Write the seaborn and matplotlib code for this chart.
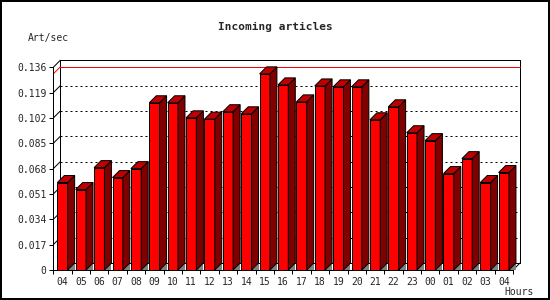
import numpy as np
import pandas as pd
import matplotlib
matplotlib.use("Agg")
import matplotlib.pyplot as plt
from matplotlib.patches import Polygon
import seaborn as sns

# ---- data ----
hours = ["04", "05", "06", "07", "08", "09", "10", "11", "12", "13", "14", "15",
         "16", "17", "18", "19", "20", "21", "22", "23", "00", "01", "02", "03", "04"]
rates = [0.0587, 0.0540, 0.0687, 0.0620, 0.0680, 0.1122, 0.1122, 0.1021, 0.1012,
         0.1062, 0.1048, 0.1316, 0.1242, 0.1128, 0.1235, 0.1229, 0.1229, 0.1008,
         0.1095, 0.0921, 0.0868, 0.0647, 0.0747, 0.0587, 0.0654]
yticks = [0, 0.017, 0.034, 0.051, 0.068, 0.085, 0.102, 0.119, 0.136]
ytick_labels = ["0", "0.017", "0.034", "0.051", "0.068", "0.085", "0.102", "0.119", "0.136"]
title = "Incoming articles"
ylabel = "Art/sec"
xlabel = "Hours"

df = pd.DataFrame({"idx": np.arange(len(hours)), "rate": rates})

sns.set_theme(style="white")
plt.rcParams["font.family"] = ["DejaVu Sans Mono", "DejaVu Sans"]

W, H = 550, 300
LW = 0.72  # 1 px
fig = plt.figure(figsize=(W / 100, H / 100), dpi=100)
fig.patch.set_facecolor("white")
fig.patch.set_edgecolor("black")
fig.patch.set_linewidth(1.5)

ax_l, ax_b, ax_r, ax_t = 53.3, 270.0, 513.0, 67.3
ax = fig.add_axes([ax_l / W, 1 - ax_b / H, (ax_r - ax_l) / W, (ax_b - ax_t) / H])
ax.set_facecolor("none")

sns.barplot(data=df, x="idx", y="rate", color="#ff0000", saturation=1,
            width=0.56, edgecolor="black", linewidth=LW, ax=ax, zorder=3)

n = len(hours)
ymax = yticks[-1]
ax.set_xlim(-0.5, n - 0.5)
ax.set_ylim(0, ymax)

# depth of the 3D effect in data units (7 px)
px_x = (ax_r - ax_l) / n
px_y = (ax_b - ax_t) / ymax
dx = 7.0 / px_x
dy = 7.0 / px_y

# back wall box
x0, x1 = -0.5 + dx, n - 0.5 + dx
ax.plot([x0, x1, x1, x0, x0], [dy, dy, ymax + dy, ymax + dy, dy],
        color="black", lw=LW, clip_on=False, zorder=1)
# connecting diagonals
ax.plot([-0.5, x0], [ymax, ymax + dy], color="black", lw=LW, clip_on=False, zorder=1)
ax.plot([n - 0.5, x1], [0, dy], color="black", lw=LW, clip_on=False, zorder=1)

# gridlines on back wall + diagonals on left side wall
for t in yticks[1:-1]:
    ax.plot([x0, x1], [t + dy, t + dy], color="black", lw=LW,
            ls=(0, (2, 3)), clip_on=False, zorder=1)
    ax.plot([-0.5, x0], [t, t + dy], color="black", lw=LW, clip_on=False, zorder=1)

# max line (red) on back wall
vmax = max(rates)
ax.plot([x0, x1], [vmax + dy, vmax + dy], color="#ff0000", lw=LW, clip_on=False, zorder=1.5)
ax.plot([-0.5, x0], [vmax, vmax + dy], color="#ff0000", lw=LW, clip_on=False, zorder=1.5)

# 3D top and side faces
for p in list(ax.patches):
    bx, by = p.get_x(), p.get_y()
    bw, bh = p.get_width(), p.get_height()
    top = by + bh
    right = bx + bw
    shadow = Polygon([[right, 0], [right + dx, 0], [right + dx, dy]], closed=True,
                     facecolor="#808080", edgecolor="none", zorder=2, clip_on=False)
    side = Polygon([[right, 0], [right + dx, dy], [right + dx, top + dy], [right, top]],
                   closed=True, facecolor="#800000", edgecolor="black", lw=LW,
                   zorder=3, clip_on=False)
    topf = Polygon([[bx, top], [bx + dx, top + dy], [right + dx, top + dy], [right, top]],
                   closed=True, facecolor="#c00000", edgecolor="black", lw=LW,
                   zorder=3, clip_on=False)
    ax.add_patch(shadow)
    ax.add_patch(side)
    ax.add_patch(topf)

# spines
for s in ["top", "right"]:
    ax.spines[s].set_visible(False)
for s in ["left", "bottom"]:
    ax.spines[s].set_visible(True)
    ax.spines[s].set_color("black")
    ax.spines[s].set_linewidth(LW)
    ax.spines[s].set_zorder(4)

# ticks
ax.set_yticks(yticks)
ax.set_yticklabels(ytick_labels)
ax.set_xticks(np.arange(n))
ax.set_xticklabels(hours)
ax.set_xticks(np.arange(n + 1) - 0.5, minor=True)
ax.tick_params(axis="y", which="major", direction="out", length=3, width=LW,
               color="black", labelsize=7, pad=2, left=True)
ax.tick_params(axis="x", which="major", length=0, labelsize=7, pad=5)
ax.tick_params(axis="x", which="minor", direction="out", length=3, width=LW,
               color="black", bottom=True)
ax.set_xlabel("")
ax.set_ylabel("")

fig.text(275 / W, 1 - 27 / H, title, ha="center", va="center",
         fontsize=8, fontweight="bold")
fig.text(28 / W, 1 - 38 / H, ylabel, ha="left", va="center", fontsize=7)
fig.text(534 / W, 1 - 292 / H, xlabel, ha="right", va="center", fontsize=7)

fig.savefig("out.png", dpi=100, facecolor="white", edgecolor="black")
